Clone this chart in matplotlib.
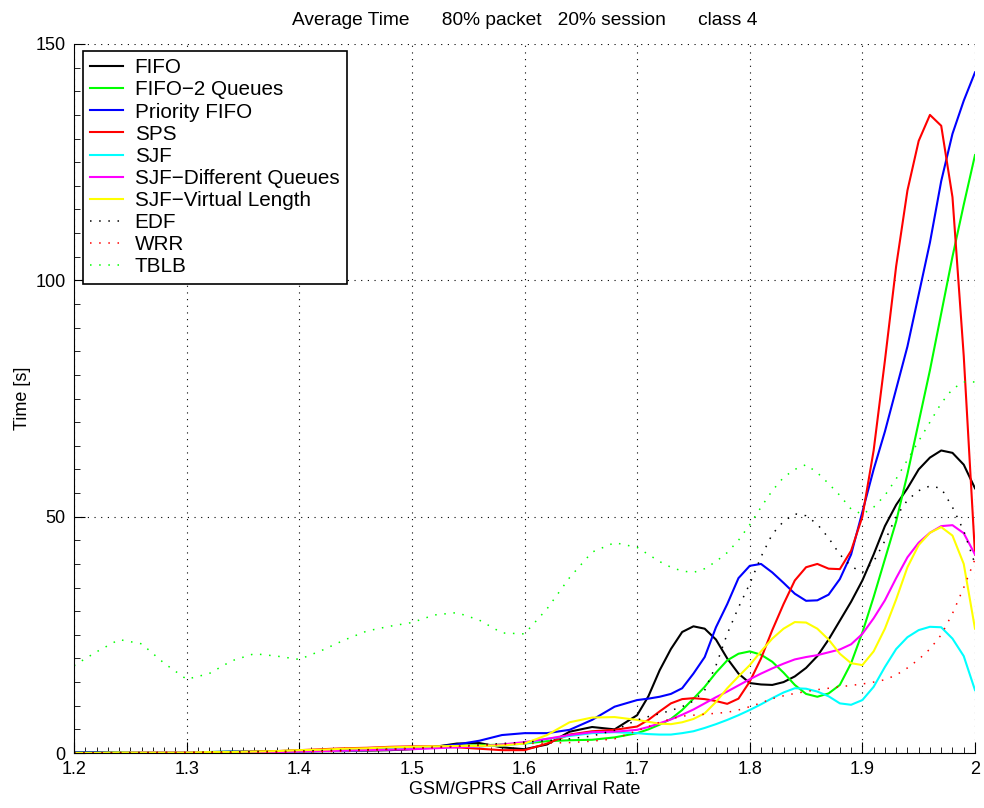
import matplotlib
matplotlib.use('Agg')
import matplotlib.pyplot as plt
from matplotlib.ticker import MultipleLocator, FuncFormatter
import numpy as np

plt.rcParams['font.family'] = ['Liberation Sans', 'DejaVu Sans']
plt.rcParams['font.size'] = 13

# arrival rate samples: every 0.02 up to 1.68, then every 0.01 up to 2.00
rate = np.round(np.concatenate([np.arange(1.20, 1.681, 0.02),
                                np.arange(1.70, 2.001, 0.01)]), 2)

fifo = [0.1, 0.1, 0.1, 0.1, 0.1, 0.2, 0.2, 0.2, 0.2, 0.3, 0.3, 0.4, 0.4,
        0.5, 0.6, 0.8, 1.3, 2.0, 2.1, 1.2, 0.8, 1.8, 4.5, 5.5, 5.0,
        8.0, 12.0, 17.5, 22.0, 25.6, 26.8, 26.3, 24.0, 20.0, 16.8,
        14.8, 14.5, 14.4, 15.0, 16.2, 18.0, 20.5, 24.0, 28.0, 32.0,
        36.5, 42.0, 48.0, 52.5, 56.0, 60.0, 62.5, 64.0, 63.5, 61.0, 56.0]
fifo2 = [0.1, 0.1, 0.1, 0.1, 0.2, 0.2, 0.2, 0.3, 0.3, 0.4, 0.5, 0.6, 0.7,
         0.9, 1.0, 1.1, 1.3, 1.5, 1.6, 1.8, 2.0, 2.5, 2.7, 2.8, 3.3,
         4.2, 5.0, 6.0, 7.2, 9.1, 11.5, 14.0, 17.0, 19.6, 21.0,
         21.5, 20.8, 19.3, 17.0, 14.4, 12.5, 11.9, 12.6, 14.4, 19.0,
         25.5, 33.0, 41.0, 49.0, 59.0, 70.0, 81.0, 93.0, 105.0, 116.0, 126.5]
prio_fifo = [0.1, 0.1, 0.1, 0.2, 0.2, 0.2, 0.2, 0.3, 0.3, 0.3, 0.4, 0.5, 0.6,
             0.7, 0.8, 1.0, 1.3, 1.8, 2.6, 3.8, 4.2, 4.2, 4.9, 7.0, 9.8,
             11.2, 11.5, 11.9, 12.5, 13.7, 16.8, 20.3, 26.6, 31.5, 37.0,
             39.6, 40.0, 38.2, 36.0, 33.7, 32.2, 32.3, 33.5, 36.8, 42.0,
             51.0, 60.0, 68.0, 77.0, 86.0, 97.0, 108.0, 121.0, 131.0, 138.0, 144.0]
sps = [0.0, 0.0, 0.1, 0.1, 0.1, 0.1, 0.2, 0.2, 0.3, 0.4, 0.6, 0.8, 1.0,
       1.1, 1.3, 1.4, 1.4, 1.2, 0.9, 0.6, 0.6, 2.0, 3.9, 4.6, 4.9,
       5.6, 7.0, 8.8, 10.5, 11.4, 11.6, 11.4, 11.0, 10.4, 11.5,
       15.1, 20.0, 26.0, 31.5, 36.5, 39.3, 40.0, 39.0, 38.9, 42.8,
       50.0, 64.0, 83.0, 103.0, 119.0, 129.5, 135.0, 132.7, 117.6, 84.0, 42.0]
sjf = [0.0, 0.0, 0.1, 0.1, 0.1, 0.1, 0.1, 0.2, 0.2, 0.2, 0.3, 0.4, 0.5,
       0.6, 0.8, 0.9, 1.1, 1.3, 1.4, 1.6, 2.0, 3.0, 3.6, 4.2, 4.4,
       4.2, 4.0, 3.9, 3.9, 4.2, 4.6, 5.3, 6.1, 7.0, 8.0,
       9.1, 10.3, 11.6, 12.8, 13.7, 13.6, 13.0, 12.0, 10.5, 10.2,
       11.2, 14.0, 18.2, 22.0, 24.5, 26.0, 26.7, 26.6, 24.2, 20.5, 13.3]
sjf_dq = [0.0, 0.0, 0.0, 0.1, 0.1, 0.1, 0.1, 0.2, 0.2, 0.2, 0.3, 0.4, 0.5,
          0.6, 0.7, 0.8, 1.0, 1.2, 1.4, 1.8, 2.3, 3.0, 3.8, 4.4, 4.5,
          4.9, 5.5, 6.3, 7.1, 8.1, 9.2, 10.5, 11.8, 13.0, 14.3,
          15.6, 16.8, 17.9, 18.9, 19.8, 20.3, 20.7, 21.3, 21.9, 23.0,
          25.2, 28.5, 32.3, 37.0, 41.4, 44.5, 46.6, 48.0, 48.2, 46.5, 42.0]
sjf_vl = [0.0, 0.0, 0.1, 0.1, 0.1, 0.1, 0.2, 0.2, 0.3, 0.4, 0.6, 0.7, 0.9,
          1.0, 1.2, 1.3, 1.4, 1.5, 1.5, 1.6, 2.0, 3.8, 6.5, 7.5, 7.6,
          7.0, 6.6, 6.2, 6.1, 6.5, 7.2, 8.4, 10.8, 13.7, 16.2,
          18.6, 21.5, 24.2, 26.3, 27.7, 27.6, 26.3, 24.0, 21.0, 19.0,
          18.6, 21.5, 26.3, 32.5, 39.3, 44.0, 46.6, 47.8, 46.0, 40.0, 26.3]
edf = [0.0, 0.0, 0.1, 0.1, 0.1, 0.1, 0.2, 0.2, 0.3, 0.3, 0.4, 0.5, 0.6,
       0.7, 0.8, 1.0, 1.2, 1.4, 1.7, 2.0, 2.3, 2.6, 3.0, 3.6, 4.8,
       7.0, 7.7, 8.3, 9.0, 9.8, 11.0, 13.3, 18.5, 25.2, 30.8,
       35.8, 41.5, 46.3, 49.0, 50.6, 50.2, 48.4, 45.5, 42.0, 39.5,
       38.2, 40.5, 44.9, 50.0, 53.5, 55.5, 56.5, 56.0, 52.0, 47.0, 40.0]
wrr = [0.0, 0.0, 0.0, 0.0, 0.1, 0.1, 0.1, 0.1, 0.1, 0.2, 0.2, 0.3, 0.4,
       0.6, 0.8, 1.0, 1.2, 1.4, 1.6, 1.8, 2.0, 2.1, 2.2, 2.5, 3.0,
       4.7, 5.6, 6.5, 7.2, 7.8, 8.0, 8.2, 8.4, 8.6, 9.1,
       9.8, 10.6, 11.5, 12.1, 12.6, 13.0, 13.4, 13.7, 14.0, 14.3,
       14.6, 15.0, 15.5, 16.5, 18.0, 19.8, 22.0, 25.0, 29.5, 35.0, 41.0]
tblb = [18.5, 21.4, 24.0, 23.1, 19.0, 15.6, 16.8, 19.5, 21.0, 20.5, 19.8, 21.7, 23.9,
        25.8, 26.8, 27.6, 29.2, 29.7, 28.1, 25.4, 25.2, 30.5, 37.1, 42.5, 44.5,
        43.5, 42.0, 40.5, 39.3, 38.5, 38.2, 39.0, 40.5, 42.4, 45.0,
        48.3, 52.0, 55.5, 58.3, 60.0, 61.0, 59.3, 57.0, 54.5, 51.6,
        50.5, 52.0, 54.5, 58.0, 62.0, 66.0, 70.0, 74.0, 77.0, 78.5, 78.5]

series = [
    ('FIFO', fifo, 'k', '-'),
    ('FIFO\u22122 Queues', fifo2, (0, 1, 0), '-'),
    ('Priority FIFO', prio_fifo, (0, 0, 1), '-'),
    ('SPS', sps, (1, 0, 0), '-'),
    ('SJF', sjf, (0, 1, 1), '-'),
    ('SJF\u2212Different Queues', sjf_dq, (1, 0, 1), '-'),
    ('SJF\u2212Virtual Length', sjf_vl, (1, 1, 0), '-'),
    ('EDF', edf, 'k', ':'),
    ('WRR', wrr, (1, 0, 0), ':'),
    ('TBLB', tblb, (0, 1, 0), ':'),
]

fig = plt.figure(figsize=(9.84, 8.08), dpi=100)
ax = fig.add_axes([74/984, 55/808, 901/984, 709/808])

for name, vals, col, ls in series:
    if ls == '-':
        ax.plot(rate, vals, color=col, lw=1.5, label=name)
    else:
        ax.plot(rate, vals, color=col, lw=1.1, linestyle=(0, (1, 5)), label=name)

ax.set_xlim(1.2, 2.0)
ax.set_ylim(0, 150)
ax.xaxis.set_major_locator(MultipleLocator(0.1))
ax.xaxis.set_minor_locator(MultipleLocator(0.01))
ax.yaxis.set_major_locator(MultipleLocator(50))
ax.yaxis.set_minor_locator(MultipleLocator(5))
ax.xaxis.set_major_formatter(FuncFormatter(lambda v, p: f'{v:g}'))
ax.tick_params(which='major', direction='in', length=8, width=0.8, pad=6)
ax.tick_params(which='minor', direction='in', length=4, width=0.6)
ax.spines['top'].set_visible(False)
ax.spines['right'].set_visible(False)
ax.grid(True, which='major', color='k', linestyle=(0, (1, 5)), lw=0.8)

ax.set_xlabel('GSM/GPRS Call Arrival Rate', labelpad=2)
ax.set_ylabel('Time [s]', labelpad=3)
ax.set_title('Average Time      80% packet   20% session      class 4',
             fontsize=13.8, pad=14)

leg = ax.legend(loc='upper left', bbox_to_anchor=(0.010, 0.990), borderaxespad=0,
                fancybox=False, framealpha=1, edgecolor='k', handlelength=1.6,
                handletextpad=0.55, labelspacing=0.15, borderpad=0.35,
                prop={'size': 14.9})
leg.get_frame().set_linewidth(1.2)

fig.savefig('out.png', dpi=100)
